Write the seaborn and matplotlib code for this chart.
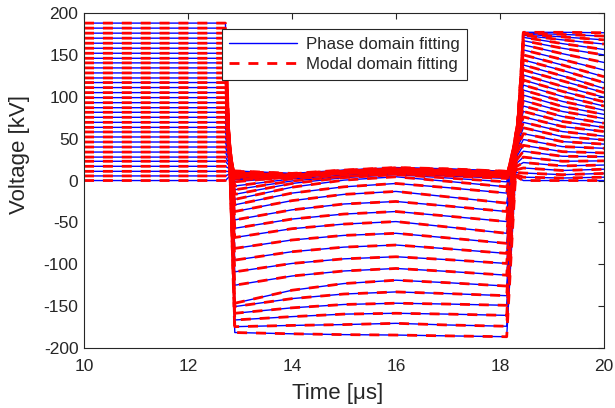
import pandas as pd
import seaborn as sns
import matplotlib.pyplot as plt
from matplotlib.lines import Line2D

# keypoint times along each trace [us]
times = [10.0, 12.72, 12.9, 14.0, 15.0, 16.0, 17.0, 18.13, 18.45, 19.2, 20.0]

# 33 traces, one value per trace
v_before = [188, 182, 176, 170, 164, 158, 152, 146, 140.5, 134.5, 128.5, 122.5, 117, 111, 105, 99, 93,
            87, 81.5, 75.5, 69.5, 63.5, 58, 52, 46, 40, 34, 28, 23, 17, 11, 5.5, 0]
v_t129 = [-181.5, -174.5, -166.5, -158.5, -150.5, -146.5, -125, -109, -95, -81, -68, -57, -47, -37, -29,
          -22.5, -16.5, -11, -6.5, -1.5, 1, 2.5, 4, 5, 6, 7, 8, 9, 9.5, 10, 10.5, 11, 11.5]
v_t14 = [-183, -173, -162.5, -152, -141, -131, -114, -99, -85, -71, -57.5, -46, -35, -24, -15,
         -8, -3.5, -0.5, 2, 4.5, 3, 3.5, 4, 4.5, 5, 5.5, 6, 6.5, 7, 7.5, 8, 8, 8.5]
v_t15 = [-184, -172, -159.5, -148, -135.5, -123, -108, -93.5, -79.5, -65.5, -52, -40, -28, -16.5, -7.5,
         0.5, 3.5, 5, 6.5, 8.5, 9, 9.5, 10, 10, 10.5, 10.5, 11, 11, 11.5, 11.5, 12, 12, 12.5]
v_t16 = [-184.5, -170.5, -158.5, -146.5, -133, -119, -105, -91, -77, -63, -49, -37, -25, -13, -3.5,
         4.5, 7, 8, 9, 10, 10.5, 11, 11.5, 12, 12.5, 13, 13.5, 14, 14, 14.5, 15, 15, 15.5]
v_t17 = [-185.5, -172.5, -159.5, -147.5, -135, -122, -108.5, -94.5, -81.5, -68.5, -55.5, -42.5, -30.5,
         -19.5, -8.5, -1, 3, 5.5, 7, 8, 8.5, 9, 9.5, 10, 10.5, 11, 11.5, 12, 12.5, 13, 13, 13.5, 14]
v_t1813 = [-186.5, -174, -161, -149, -137.5, -126, -113, -99, -87, -75, -63, -49, -37, -27, -15,
           -7.5, -1.5, 2.5, 4, 5, 6, 6.5, 7, 7.5, 8, 8.5, 9, 9.5, 10, 10, 10.5, 11, 11]
v_t1845 = [177, 176, 175, 173.5, 171, 167, 162, 156, 150, 144, 138, 132, 126, 120, 114, 108, 102,
           95.5, 89, 82.5, 76, 69.5, 63, 56, 49, 42, 35, 28, 21.5, 15, 9, 4, 0]
v_t192 = [177, 174.5, 171.5, 168, 163.5, 158, 151.5, 144.5, 138, 131.5, 125, 119, 112.5, 106.5, 100.5,
          94.5, 88.5, 82.5, 76.5, 70.5, 64.5, 58.5, 52.5, 46.5, 40.5, 34.5, 29, 23, 17.5, 12, 7, 3, 0]
v_t20 = [176.5, 172.5, 168, 163, 156.5, 150, 141, 132, 124, 117, 110, 105, 99.5, 94, 89, 84, 79,
         74, 68.5, 63.5, 58.5, 53, 48.5, 43.5, 38.5, 33, 28.5, 23.5, 18.5, 13.5, 8.5, 4, 0]

columns = [v_before, v_before, v_t129, v_t14, v_t15, v_t16, v_t17, v_t1813, v_t1845, v_t192, v_t20]
rows = []
for k in range(len(v_before)):
    for t, col in zip(times, columns):
        rows.append({'trace': k, 't': t, 'v': col[k]})
df = pd.DataFrame(rows)

sns.set_style('white')
plt.rcParams['font.family'] = ['Liberation Sans', 'DejaVu Sans']
plt.rcParams['axes.unicode_minus'] = False
fig = plt.figure(figsize=(6.15, 4.08), dpi=100)
ax = fig.add_axes([0.1366, 0.147, 0.8454, 0.821])

sns.lineplot(data=df, x='t', y='v', units='trace', estimator=None, sort=False,
             color='#0000ff', lw=1.0, ax=ax)
sns.lineplot(data=df, x='t', y='v', units='trace', estimator=None, sort=False,
             color='#ff0000', lw=2.0, linestyle=(0, (3.6, 3.2)), ax=ax)

ax.set_xlim(10, 20)
ax.set_ylim(-200, 200)
ax.set_xticks(range(10, 21, 2))
ax.set_yticks(range(-200, 201, 50))
ax.set_xlabel('Time [\u03bcs]', fontsize=16, color='#262626')
ax.set_ylabel('Voltage [kV]', fontsize=16, color='#262626')
ax.xaxis.set_label_coords(0.488, -0.104)
ax.yaxis.set_label_coords(-0.104, 0.579)
ax.tick_params(direction='in', length=4, width=0.8, colors='#262626', labelsize=12.5,
               top=True, right=True, labeltop=False, labelright=False)
ax.tick_params(axis='x', pad=8)
ax.tick_params(axis='y', pad=4)
for s in ax.spines.values():
    s.set_color('#262626')
    s.set_linewidth(0.8)

handles = [Line2D([], [], color='#0000ff', lw=1.0),
           Line2D([], [], color='#ff0000', lw=2.0, linestyle=(0, (3.6, 3.2)))]
leg = ax.legend(handles, ['Phase domain fitting', 'Modal domain fitting'],
                loc='upper left', bbox_to_anchor=(0.265, 0.951), borderaxespad=0,
                fontsize=12.2, frameon=True, fancybox=False, edgecolor='#262626',
                framealpha=1, handlelength=4.0, handletextpad=0.5, borderpad=0.45,
                labelspacing=0.3)
leg.get_frame().set_linewidth(0.8)

fig.savefig('out.png', dpi=100)
